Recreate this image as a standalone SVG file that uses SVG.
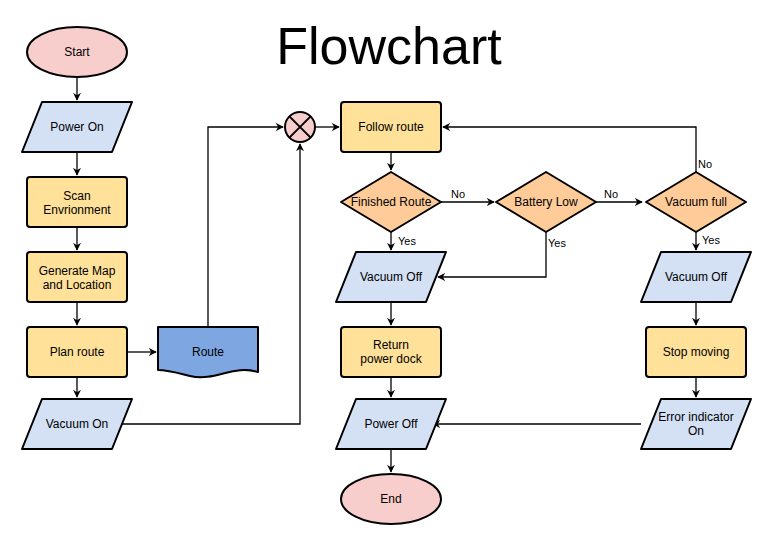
<svg xmlns="http://www.w3.org/2000/svg" width="781" height="554" viewBox="0 0 781 554">
<defs>
<style>
text{font-family:"Liberation Sans",Arial,sans-serif;font-size:12px;fill:#000;text-anchor:middle;dominant-baseline:central}
.y{fill:#ffe199;stroke:#000;stroke-width:2}
.b{fill:#d4e1f5;stroke:#000;stroke-width:2;stroke-linejoin:round}
.o{fill:#ffcc99;stroke:#000;stroke-width:2;stroke-linejoin:round}
.p{fill:#f8cecc;stroke:#000;stroke-width:2}
.c path{fill:none;stroke:#000;stroke-width:1.3}
.l{font-size:11px;text-anchor:start}
</style>
<marker id="a" viewBox="0 0 10 10" refX="9" refY="5" markerWidth="8" markerHeight="8" orient="auto" markerUnits="userSpaceOnUse"><path d="M0,0L10,5L0,10L3,5Z" fill="#000"/></marker>
</defs>
<rect width="781" height="554" fill="#fff"/>
<text x="389" y="46" style="font-size:52px">Flowchart</text>
<g class="c">
<path d="M77,77V100" marker-end="url(#a)"/>
<path d="M77,152V175" marker-end="url(#a)"/>
<path d="M77,227V250" marker-end="url(#a)"/>
<path d="M77,302V325" marker-end="url(#a)"/>
<path d="M77,377V397" marker-end="url(#a)"/>
<path d="M127,352H156" marker-end="url(#a)"/>
<path d="M208,327V127H283" marker-end="url(#a)"/>
<path d="M122,424H300V144" marker-end="url(#a)"/>
<path d="M315,127H339" marker-end="url(#a)"/>
<path d="M391,152V170" marker-end="url(#a)"/>
<path d="M441,202H494" marker-end="url(#a)"/>
<path d="M596,202H642" marker-end="url(#a)"/>
<path d="M696,172V127H443" marker-end="url(#a)"/>
<path d="M391,232V250" marker-end="url(#a)"/>
<path d="M546,232V277H438" marker-end="url(#a)"/>
<path d="M696,232V250" marker-end="url(#a)"/>
<path d="M391,302V325" marker-end="url(#a)"/>
<path d="M391,377V397" marker-end="url(#a)"/>
<path d="M391,449V472" marker-end="url(#a)"/>
<path d="M696,302V325" marker-end="url(#a)"/>
<path d="M696,377V397" marker-end="url(#a)"/>
<path d="M641,424H433" marker-end="url(#a)"/>
</g>
<g id="labels">
<text class="l" x="451" y="194">No</text>
<text class="l" x="604" y="194">No</text>
<text class="l" x="698" y="164">No</text>
<text class="l" x="398" y="241">Yes</text>
<text class="l" x="548" y="243">Yes</text>
<text class="l" x="702" y="240">Yes</text>
</g>
<g id="start"><ellipse class="p" cx="77" cy="52" rx="50" ry="25"/><text x="77" y="52">Start</text></g>
<g id="powerOn"><path class="b" d="M42,102H132L112,152H22Z"/><text x="77" y="127">Power On</text></g>
<g id="scan"><rect class="y" x="27" y="177" width="100" height="50" rx="3"/><text x="77" y="196">Scan</text><text x="77" y="210">Envrionment</text></g>
<g id="gen"><rect class="y" x="27" y="252" width="100" height="50" rx="3"/><text x="77" y="271">Generate Map</text><text x="77" y="285">and Location</text></g>
<g id="plan"><rect class="y" x="27" y="327" width="100" height="50" rx="3"/><text x="77" y="352">Plan route</text></g>
<g id="vacOn"><path class="b" d="M42,399H132L112,449H22Z"/><text x="77" y="424">Vacuum On</text></g>
<g id="route"><path d="M158,327H258V372C233,364 216,382 190,376C178,373 168,370 158,370Z" fill="#7ea6e0" stroke="#000" stroke-width="2" stroke-linejoin="round"/><text x="208" y="352">Route</text></g>
<g id="join"><circle class="p" cx="300" cy="127" r="15"/><path d="M289.4,116.4L310.6,137.6M310.6,116.4L289.4,137.6" stroke="#000" stroke-width="2"/></g>
<g id="follow"><rect class="y" x="341" y="102" width="100" height="50" rx="3"/><text x="391" y="127">Follow route</text></g>
<g id="fin"><path class="o" d="M391,172L441,202L391,232L341,202Z"/><text x="391" y="202">Finished Route</text></g>
<g id="bat"><path class="o" d="M546,172L596,202L546,232L496,202Z"/><text x="546" y="202">Battery Low</text></g>
<g id="full"><path class="o" d="M696,172L746,202L696,232L646,202Z"/><text x="696" y="202">Vacuum full</text></g>
<g id="vacOff1"><path class="b" d="M356,252H446L426,302H336Z"/><text x="391" y="277">Vacuum Off</text></g>
<g id="vacOff2"><path class="b" d="M661,252H751L731,302H641Z"/><text x="696" y="277">Vacuum Off</text></g>
<g id="ret"><rect class="y" x="341" y="327" width="100" height="50" rx="3"/><text x="391" y="345">Return</text><text x="391" y="359">power dock</text></g>
<g id="stop"><rect class="y" x="646" y="327" width="100" height="50" rx="3"/><text x="696" y="352">Stop moving</text></g>
<g id="powOff"><path class="b" d="M356,399H446L426,449H336Z"/><text x="391" y="424">Power Off</text></g>
<g id="err"><path class="b" d="M661,399H751L731,449H641Z"/><text x="696" y="417">Error indicator</text><text x="696" y="431">On</text></g>
<g id="end"><ellipse class="p" cx="391" cy="499" rx="50" ry="25"/><text x="391" y="499">End</text></g>
</svg>
